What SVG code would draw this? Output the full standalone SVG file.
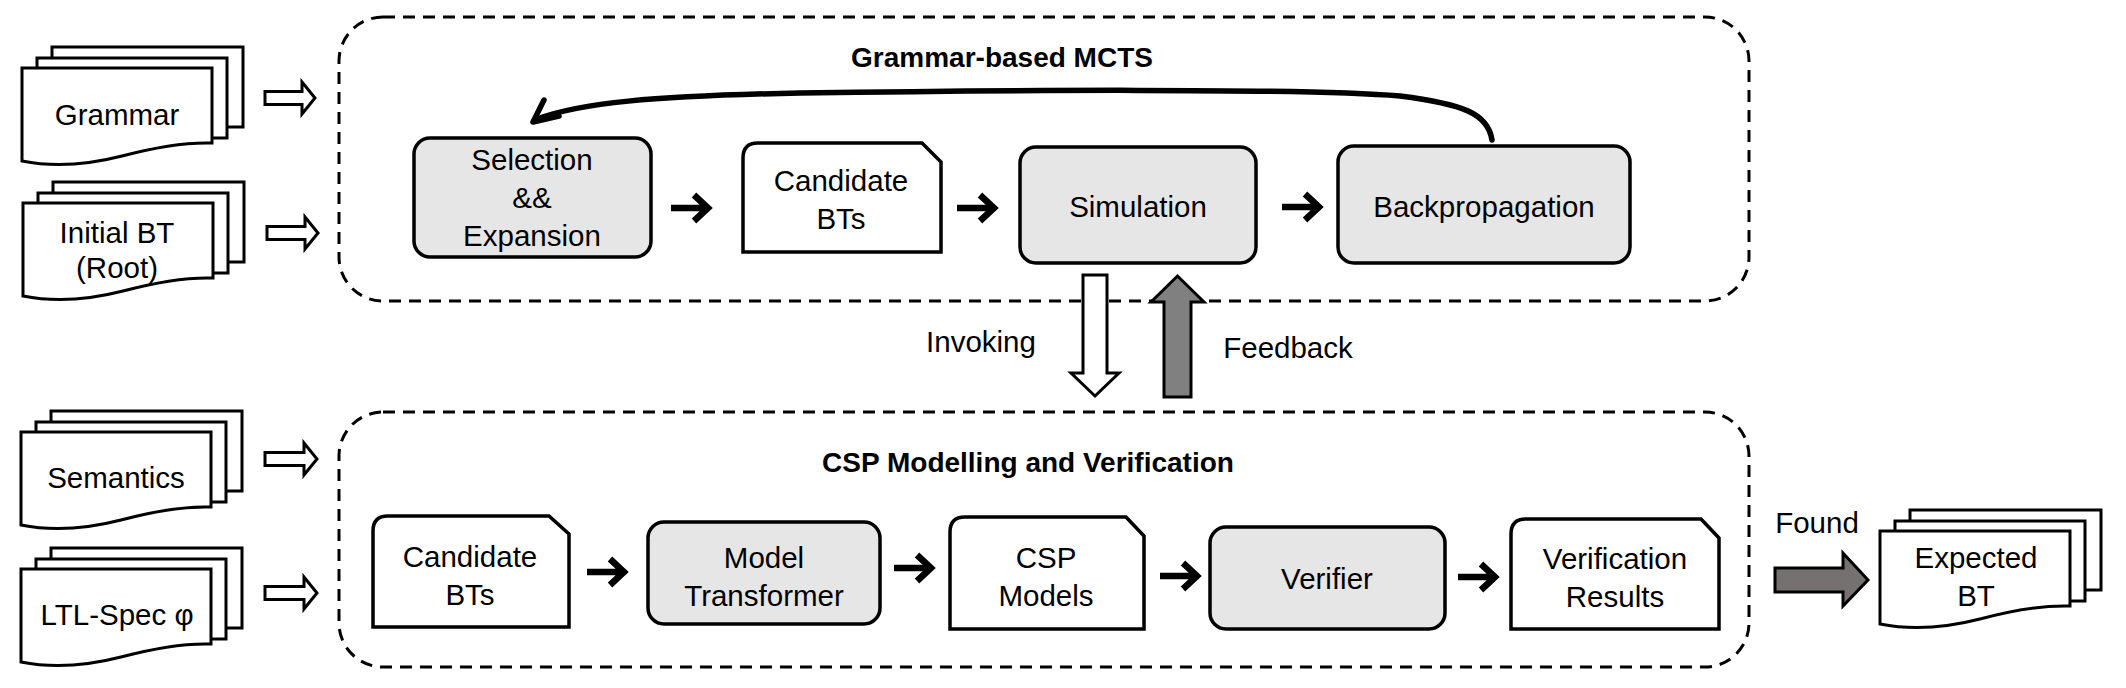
<svg xmlns="http://www.w3.org/2000/svg" xmlns:xlink="http://www.w3.org/1999/xlink" width="2126" height="688" viewBox="0 0 2126 688">
<style>
text{font-family:"Liberation Sans",Arial,sans-serif;font-size:29.5px;fill:#000;text-anchor:middle}
.title{font-weight:bold;font-size:28px}
.doc{fill:#fff;stroke:#000;stroke-width:3;stroke-linejoin:miter}
.rbox{fill:#e6e6e6;stroke:#000;stroke-width:3.5}
.card{fill:#fff;stroke:#000;stroke-width:3.5;stroke-linejoin:miter}
.frame{fill:none;stroke:#000;stroke-width:3;stroke-dasharray:12 8}
.sa{fill:none;stroke:#000;stroke-width:6.5}
.hollow{fill:#fff;stroke:#000;stroke-width:3}
.curve{fill:none;stroke:#000;stroke-width:5.5;stroke-linecap:round;stroke-linejoin:round}
</style>
<defs>
<g id="docstack">
<rect x="30" y="-21" width="191" height="80" class="doc"/>
<rect x="15" y="-10" width="190" height="80" class="doc"/>
<path d="M0,0 H190 V75 C160,74 130,80 100,88 C65,97 30,99 0,93 Z" class="doc"/>
</g>
</defs>
<rect width="2126" height="688" fill="#fff"/>

<g id="mcts-frame">
<rect x="339" y="17" width="1410" height="284" rx="44" class="frame"/>
<text x="1002" y="67" class="title">Grammar-based MCTS</text>
</g>
<g id="csp-frame">
<rect x="339" y="412" width="1410" height="255" rx="44" class="frame"/>
<text x="1028" y="472" class="title">CSP Modelling and Verification</text>
</g>

<g id="grammar">
<use xlink:href="#docstack" href="#docstack" transform="translate(22,68)"/>
<text x="117" y="125">Grammar</text>
</g>
<g id="initial-bt">
<use xlink:href="#docstack" href="#docstack" transform="translate(23,203)"/>
<text x="117" y="243">Initial BT</text>
<text x="117" y="278">(Root)</text>
</g>
<g id="semantics">
<use xlink:href="#docstack" href="#docstack" transform="translate(21,432)"/>
<text x="116" y="488">Semantics</text>
</g>
<g id="ltl-spec">
<use xlink:href="#docstack" href="#docstack" transform="translate(21,569)"/>
<text x="117" y="625">LTL-Spec φ</text>
</g>
<g id="expected-bt">
<use xlink:href="#docstack" href="#docstack" transform="translate(1880,531)"/>
<text x="1976" y="568">Expected</text>
<text x="1976" y="606">BT</text>
</g>

<g id="selection-expansion">
<rect x="414" y="138" width="237" height="119" rx="16" class="rbox"/>
<text x="532" y="170">Selection</text>
<text x="532" y="208">&amp;&amp;</text>
<text x="532" y="246">Expansion</text>
</g>
<g id="candidate-bts-top">
<path d="M743,252 V158 Q743,143 758,143 H922 L941,162 V252 Z" class="card"/>
<text x="841" y="191">Candidate</text>
<text x="841" y="229">BTs</text>
</g>
<g id="simulation">
<rect x="1020" y="147" width="236" height="116" rx="16" class="rbox"/>
<text x="1138" y="217">Simulation</text>
</g>
<g id="backpropagation">
<rect x="1338" y="146" width="292" height="117" rx="16" class="rbox"/>
<text x="1484" y="217">Backpropagation</text>
</g>

<g id="candidate-bts-bottom">
<path d="M373,627 V531 Q373,516 388,516 H549 L569,534 V627 Z" class="card"/>
<text x="470" y="567">Candidate</text>
<text x="470" y="605">BTs</text>
</g>
<g id="model-transformer">
<rect x="648" y="522" width="232" height="102" rx="16" class="rbox"/>
<text x="764" y="568">Model</text>
<text x="764" y="606">Transformer</text>
</g>
<g id="csp-models">
<path d="M950,629 V532 Q950,517 965,517 H1126 L1144,536 V629 Z" class="card"/>
<text x="1046" y="568">CSP</text>
<text x="1046" y="606">Models</text>
</g>
<g id="verifier">
<rect x="1210" y="527" width="235" height="102" rx="16" class="rbox"/>
<text x="1327" y="589">Verifier</text>
</g>
<g id="verification-results">
<path d="M1511,629 V534 Q1511,519 1526,519 H1701 L1719,538 V629 Z" class="card"/>
<text x="1615" y="569">Verification</text>
<text x="1615" y="607">Results</text>
</g>

<g id="connectors">
<path class="hollow" d="M265,91.5 H302 V82 L315,98 L302,114 V104.5 H265 Z"/>
<path class="hollow" d="M267,226.5 H305 V217 L318,233 L305,249 V239.5 H267 Z"/>
<path class="hollow" d="M265,452.5 H304 V443 L317,459 L304,475 V465.5 H265 Z"/>
<path class="hollow" d="M265,586.5 H304 V577 L317,593 L304,609 V599.5 H265 Z"/>

<path class="sa" d="M671,208 H706 M694,195 L708,208 L694,221"/>
<path class="sa" d="M957,208 H992 M980,195 L994,208 L980,221"/>
<path class="sa" d="M1282,207 H1317 M1305,194 L1319,207 L1305,220"/>
<path class="sa" d="M587,572 H622 M610,559 L624,572 L610,585"/>
<path class="sa" d="M894,568 H929 M917,555 L931,568 L917,581"/>
<path class="sa" d="M1160,576 H1195 M1183,563 L1197,576 L1183,589"/>
<path class="sa" d="M1458,577 H1493 M1481,564 L1495,577 L1481,590"/>

<path class="curve" d="M1492,140 C1488,113 1462,104 1400,96 C1300,88 1000,90 800,93 C650,96 580,103 537,119"/>
<path class="curve" d="M544,100 L533,122 L559,116"/>

<path d="M1083,275 H1107 V373 H1119 L1095,396 L1071,373 H1083 Z" fill="#fff" stroke="#000" stroke-width="3"/>
<text x="981" y="352">Invoking</text>
<path d="M1164,397 V302 H1151 L1177.5,276 L1204,302 H1191 V397 Z" fill="#808080" stroke="#000" stroke-width="3"/>
<text x="1288" y="358">Feedback</text>

<path d="M1775,568 H1843 V553 L1868,580 L1843,606 V592 H1775 Z" fill="#767171" stroke="#000" stroke-width="3"/>
<text x="1817" y="533">Found</text>
</g>
</svg>
